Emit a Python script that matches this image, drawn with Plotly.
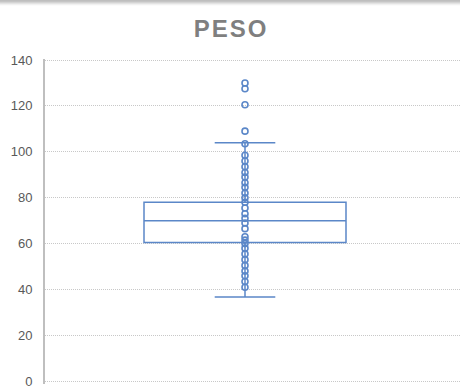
import plotly.graph_objects as go

# Weight observations (kg), drawn as individual points
peso = [130, 127.5, 120.5, 109, 103.5, 98.5, 96, 93.5, 91, 89, 86.5, 84.5,
        82, 80, 78, 75.5, 73, 71, 69, 66.5, 63, 61.5, 60, 58, 55.5, 53,
        50.5, 48, 46, 43.5, 41]

# Box summary statistics
q1 = [60.5]
median = [70]
q3 = [78]
lower_fence = [36.7]
upper_fence = [104]

y_ticks = [0, 20, 40, 60, 80, 100, 120, 140]

W, H = 460, 389
L, R, T, B = 45, 0, 59, 3
BLUE = "#5B87C8"

fig = go.Figure()

fig.add_trace(go.Box(
    x=[0], q1=q1, median=median, q3=q3,
    lowerfence=lower_fence, upperfence=upper_fence,
    width=202, whiskerwidth=0.3,
    boxpoints=False,
    line=dict(color=BLUE, width=1.5),
    fillcolor="white",
    showlegend=False, hoverinfo="skip",
))

fig.add_trace(go.Scatter(
    x=[0] * len(peso), y=peso, mode="markers",
    marker=dict(symbol="circle-open", size=6, color=BLUE,
                line=dict(width=1.6, color=BLUE)),
    showlegend=False,
))

# helpers to place decoration in pixel terms
pw, ph = W - L - R, H - T - B
def px_x(x):
    return (x - L) / pw
def px_y(y):
    return (H - B - y) / ph

# soft grey band along the top edge
band = ["#a9a9a9", "#b8b8b8", "#cbcbcb", "#dedede", "#efefef"]
for i, c in enumerate(band):
    fig.add_shape(type="rect", xref="paper", yref="paper",
                  x0=px_x(0), x1=px_x(W), y0=px_y(i + 1), y1=px_y(i),
                  fillcolor=c, line=dict(width=0), layer="above")

fig.update_layout(
    width=W, height=H,
    margin=dict(l=L, r=R, t=T, b=B, pad=0),
    paper_bgcolor="white", plot_bgcolor="white",
    title=dict(text="<b>P\u200aE\u200aS\u200aO</b>", x=230 / W, xanchor="center",
               y=1 - 29 / H, yanchor="middle",
               font=dict(family="Liberation Sans, Arial", size=24, color="#7F7F7F")),
    font=dict(family="Liberation Sans, Arial", size=13, color="#595959"),
    xaxis=dict(range=[-200, 215], showgrid=False, zeroline=False,
               showticklabels=False, showline=False, ticks=""),
    yaxis=dict(range=[-1.2, 140.45], tickvals=y_ticks, showgrid=True,
               gridcolor="#C8C8C8", griddash="1px,1px", gridwidth=1,
               zeroline=False, showline=True, linecolor="#BFBFBF", linewidth=2,
               ticks="outside", ticklen=8, tickcolor="rgba(0,0,0,0)",
               ticklabeloverflow="allow",
               tickfont=dict(size=13, color="#595959")),
)

fig.write_html("out.html")
